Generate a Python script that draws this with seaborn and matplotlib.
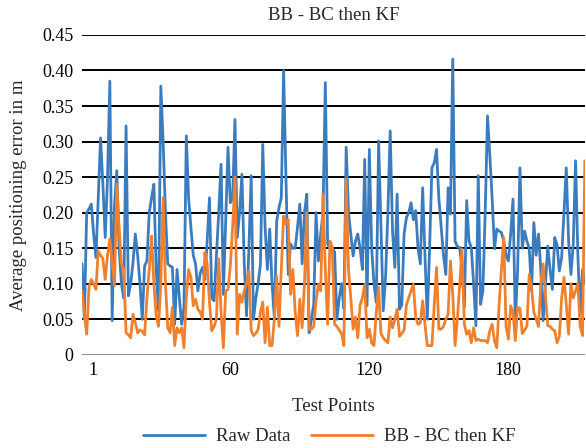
import matplotlib
matplotlib.use("Agg")
import matplotlib.pyplot as plt
import matplotlib.transforms as mtransforms
import numpy as np
import pandas as pd
import seaborn as sns

# values (m)
raw_data = [
    0.128, 0.05, 0.20, 0.205, 0.212, 0.17, 0.137, 0.22, 0.305, 0.24,
    0.165, 0.25, 0.385, 0.048, 0.21, 0.259, 0.15, 0.10, 0.08, 0.322,
    0.083, 0.10, 0.13, 0.17, 0.14, 0.10, 0.05, 0.125, 0.132, 0.20,
    0.221, 0.24, 0.12, 0.062, 0.378, 0.30, 0.20, 0.128, 0.125, 0.123,
    0.043, 0.12, 0.08, 0.043, 0.067, 0.308, 0.22, 0.179, 0.14, 0.128,
    0.09, 0.115, 0.123, 0.106, 0.16, 0.221, 0.08, 0.076, 0.14, 0.20,
    0.268, 0.085, 0.19, 0.292, 0.214, 0.22, 0.331, 0.165, 0.20, 0.254,
    0.13, 0.055, 0.15, 0.252, 0.05, 0.08, 0.10, 0.128, 0.296, 0.18,
    0.12, 0.177, 0.10, 0.052, 0.188, 0.207, 0.221, 0.40, 0.25, 0.113,
    0.156, 0.15, 0.15, 0.18, 0.212, 0.128, 0.20, 0.226, 0.031, 0.05,
    0.071, 0.20, 0.132, 0.17, 0.20, 0.383, 0.156, 0.15, 0.15, 0.145,
    0.05, 0.08, 0.10, 0.065, 0.292, 0.20, 0.17, 0.139, 0.16, 0.17,
    0.15, 0.12, 0.275, 0.069, 0.289, 0.15, 0.10, 0.074, 0.301, 0.18,
    0.062, 0.109, 0.20, 0.315, 0.174, 0.123, 0.226, 0.064, 0.07, 0.17,
    0.193, 0.20, 0.214, 0.19, 0.203, 0.15, 0.128, 0.235, 0.14, 0.05,
    0.15, 0.263, 0.27, 0.289, 0.22, 0.18, 0.14, 0.113, 0.235, 0.198,
    0.416, 0.16, 0.152, 0.151, 0.12, 0.067, 0.217, 0.16, 0.151, 0.10,
    0.041, 0.252, 0.071, 0.09, 0.20, 0.336, 0.28, 0.22, 0.149, 0.177,
    0.174, 0.172, 0.16, 0.14, 0.132, 0.17, 0.219, 0.048, 0.12, 0.263,
    0.15, 0.174, 0.16, 0.15, 0.09, 0.186, 0.14, 0.17, 0.12, 0.048,
    0.10, 0.153, 0.12, 0.092, 0.165, 0.155, 0.118, 0.137, 0.20, 0.263,
    0.16, 0.113, 0.155, 0.273, 0.14, 0.055, 0.12, 0.10,
]

bb_bc_kf = [
    0.09, 0.06, 0.029, 0.095, 0.106, 0.10, 0.092, 0.146, 0.14, 0.135,
    0.106, 0.14, 0.163, 0.13, 0.097, 0.24, 0.18, 0.128, 0.12, 0.031,
    0.028, 0.024, 0.057, 0.045, 0.031, 0.035, 0.033, 0.028, 0.08, 0.12,
    0.167, 0.10, 0.055, 0.04, 0.10, 0.221, 0.10, 0.038, 0.031, 0.067,
    0.013, 0.038, 0.031, 0.038, 0.01, 0.08, 0.12, 0.109, 0.069, 0.078,
    0.064, 0.06, 0.05, 0.144, 0.128, 0.074, 0.034, 0.04, 0.05, 0.135,
    0.06, 0.01, 0.09, 0.092, 0.125, 0.18, 0.25, 0.029, 0.085, 0.074,
    0.09, 0.10, 0.118, 0.034, 0.027, 0.03, 0.036, 0.06, 0.074, 0.017,
    0.067, 0.013, 0.013, 0.05, 0.111, 0.04, 0.12, 0.195, 0.184, 0.19,
    0.085, 0.12, 0.06, 0.027, 0.078, 0.038, 0.10, 0.20, 0.036, 0.036,
    0.04, 0.076, 0.099, 0.09, 0.226, 0.12, 0.043, 0.16, 0.151, 0.043,
    0.04, 0.035, 0.03, 0.013, 0.247, 0.12, 0.08, 0.036, 0.053, 0.024,
    0.07, 0.08, 0.099, 0.024, 0.036, 0.017, 0.013, 0.06, 0.095, 0.03,
    0.024, 0.02, 0.017, 0.053, 0.038, 0.05, 0.064, 0.026, 0.03, 0.035,
    0.07, 0.08, 0.09, 0.099, 0.053, 0.043, 0.045, 0.076, 0.043, 0.013,
    0.013, 0.013, 0.07, 0.123, 0.036, 0.036, 0.04, 0.05, 0.057, 0.132,
    0.085, 0.013, 0.05, 0.10, 0.149, 0.043, 0.029, 0.034, 0.017, 0.038,
    0.02, 0.022, 0.02, 0.02, 0.02, 0.017, 0.034, 0.043, 0.02, 0.01,
    0.07, 0.12, 0.165, 0.04, 0.022, 0.069, 0.06, 0.02, 0.067, 0.065,
    0.03, 0.035, 0.04, 0.113, 0.094, 0.06, 0.05, 0.04, 0.10, 0.128,
    0.085, 0.041, 0.04, 0.036, 0.034, 0.017, 0.026, 0.08, 0.109, 0.07,
    0.029, 0.10, 0.08, 0.09, 0.10, 0.04, 0.027, 0.273,
]

series_names = ["Raw Data", "BB - BC then KF"]
x_tick_labels = [1, 60, 120, 180]
y_ticks = [0, 0.05, 0.10, 0.15, 0.20, 0.25, 0.30, 0.35, 0.40, 0.45]

test_points = np.arange(1, len(raw_data) + 1)
df = pd.DataFrame({
    "Test Points": np.concatenate([test_points, test_points]),
    "error": raw_data + bb_bc_kf,
    "series": [series_names[0]] * len(raw_data) + [series_names[1]] * len(bb_bc_kf),
})

sns.set_style("white")
plt.rcParams["font.family"] = ["Liberation Serif", "DejaVu Serif"]

fig = plt.figure(figsize=(5.86, 4.48), dpi=100)
ax = fig.add_axes([0.14, 0.208, 0.858, 0.714])

sns.lineplot(data=df, x="Test Points", y="error", hue="series",
             palette=["#3b7cbf", "#f0802c"], linewidth=2.0, ax=ax)

ax.set_ylim(0, 0.45)
ax.set_xlim(1, len(raw_data))
ax.set_yticks(y_ticks)
ax.set_yticklabels(["0"] + [f"{v:.2f}" for v in y_ticks[1:]])
ax.set_xticks(x_tick_labels)
ax.set_xticklabels([str(v) for v in x_tick_labels])
ax.tick_params(axis="both", length=0, labelsize=13, colors="black")
ax.tick_params(axis="y", pad=6)
ax.tick_params(axis="x", pad=5)

# labels sit a little right of the data index, as in the original
offset = mtransforms.ScaledTranslation(0.11, 0, fig.dpi_scale_trans)
for lbl in ax.get_xticklabels():
    lbl.set_transform(lbl.get_transform() + offset)

for v in y_ticks[1:]:
    ax.axhline(v, color="black", linewidth=1.4, zorder=0)
ax.axhline(0, color="#8c8c8c", linewidth=1.4, zorder=0)

for s in ax.spines.values():
    s.set_visible(False)

ax.set_title("BB - BC then KF", fontsize=13.5, pad=11)
ax.set_ylabel("Average positioning error in m", fontsize=13.5, labelpad=11)
ax.set_xlabel("Test Points", fontsize=13.5, labelpad=14)

sns.move_legend(ax, "lower center", bbox_to_anchor=(0.562, -0.032),
                bbox_transform=fig.transFigure, ncol=2, frameon=False,
                title=None, fontsize=13.5, handlelength=3.3, columnspacing=1.1,
                handletextpad=0.6)

fig.savefig("out.png", dpi=100)
